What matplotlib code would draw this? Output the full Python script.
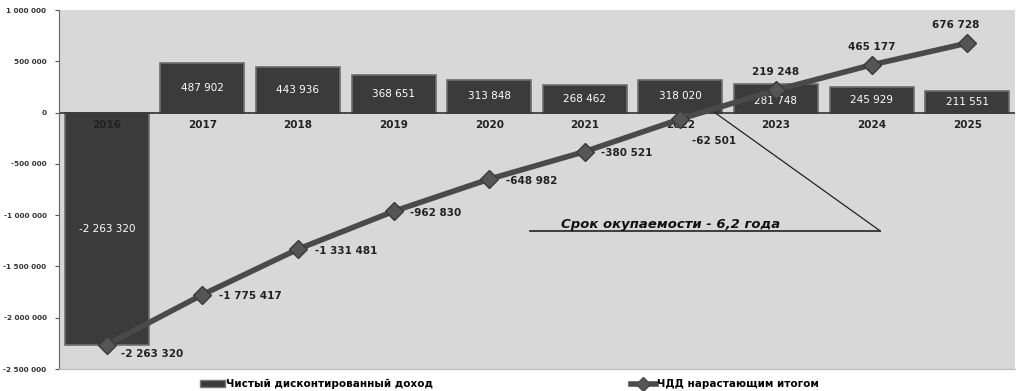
import matplotlib
matplotlib.use("Agg")
import matplotlib.pyplot as plt
from matplotlib.lines import Line2D
from matplotlib.patches import Patch
import numpy as np

years = ["2016", "2017", "2018", "2019", "2020", "2021", "2022", "2023", "2024", "2025"]
ndd = [-2263320, 487902, 443936, 368651, 313848, 268462, 318020, 281748, 245929, 211551]
cum_ndd = [-2263320, -1775417, -1331481, -962830, -648982, -380521, -62501, 219248, 465177, 676728]
bar_label = "Чистый дисконтированный доход"
line_label = "ЧДД нарастающим итогом"
payback_text = "Срок окупаемости - 6,2 года"


def fmt(v):
    s = f"{abs(int(v)):,}".replace(",", " ")
    return ("-" if v < 0 else "") + s


fig = plt.figure(figsize=(10.18, 3.91), dpi=100)
fig.patch.set_facecolor("white")
ax = fig.add_axes([59 / 1018, 22 / 391, 956 / 1018, 359 / 391])
ax.set_facecolor("#d8d8d8")

x = np.arange(len(years))
ax.bar(x, ndd, width=0.88, color="#3b3b3b", edgecolor="#6e6e6e", linewidth=1.2, zorder=2)
for xi, v in zip(x, ndd):
    yv = v * 0.4 if xi == 7 else v / 2
    ax.text(xi, yv, fmt(v), ha="center", va="center", color="white", fontsize=7.5, zorder=3)

ax.axhline(0, color="#333333", linewidth=1.2, zorder=2.5)

for xi, y in zip(x, years):
    ax.annotate(y, (xi, 0), xytext=(0, -5), textcoords="offset points", ha="center", va="top",
                fontsize=7.5, fontweight="bold", color="#222222", zorder=4)

ax.plot(x, cum_ndd, color="#4a4a4a", linewidth=4, marker="D", markersize=9.5,
        markerfacecolor="#555555", markeredgecolor="#3a3a3a", zorder=5)

offsets = [(10, -7), (12, -1), (12, -1), (12, -1), (12, -1), (12, -1), (8, -16), (0, 13), (0, 13), (-8, 13)]
for xi, v, off in zip(x, cum_ndd, offsets):
    ha = "left" if off[0] > 0 else "center"
    ax.annotate(fmt(v), (xi, v), xytext=off, textcoords="offset points", ha=ha, va="center",
                fontsize=7.5, fontweight="bold", color="#222222", zorder=6)

# payback annotation
ax.plot([6.36, 8.09], [0, -1.154e6], color="#222222", linewidth=0.9, zorder=4)
ax.plot([4.43, 8.09], [-1.154e6, -1.154e6], color="#222222", linewidth=1.2, zorder=4)
ax.text(5.9, -1.095e6, payback_text, ha="center", va="center", fontsize=9.5,
        fontweight="bold", fontstyle="italic", color="#111111", zorder=6)

ax.set_xlim(-0.5, len(years) - 0.5)
ax.set_ylim(-2500000, 1000000)
yt = np.arange(-2500000, 1000001, 500000)
ax.set_yticks(yt)
ax.set_yticklabels([fmt(v) for v in yt], fontsize=5.2, fontweight="bold", color="#333333")
ax.set_xticks([])
ax.tick_params(axis="y", length=3, color="#555555", pad=6)
for s in ["top", "right"]:
    ax.spines[s].set_visible(False)
ax.spines["left"].set_color("#666666")
ax.spines["bottom"].set_color("#bbbbbb")

h1 = Patch(facecolor="#3b3b3b", edgecolor="#777777")
h2 = Line2D([0], [0], color="#4a4a4a", linewidth=4, marker="D", markersize=7, markerfacecolor="#555555")
fig.legend([h1, h2], [bar_label, line_label], loc="lower center", bbox_to_anchor=(0.5, -0.02), ncol=2,
           frameon=False, columnspacing=19, handlelength=2.4, handletextpad=0.1,
           prop={"size": 7.5, "weight": "bold"})

fig.savefig("out.png", dpi=100)
